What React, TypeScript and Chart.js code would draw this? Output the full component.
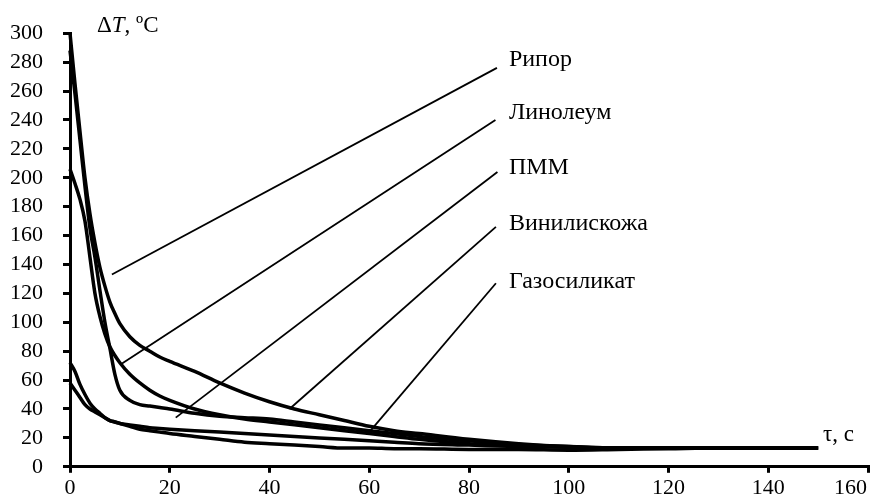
import React, { useEffect, useRef } from "react";
import { Chart, registerables } from "chart.js";

Chart.register(...registerables);

// ---- data ----
const tau = [0, 1, 2, 3, 4, 5, 6, 7, 8, 9, 10, 12, 14, 16, 18, 20, 25, 30, 35, 40, 45, 50, 55, 60, 65, 70, 80, 90, 100, 110, 120, 130, 140, 150];

const ripor = [300, 265, 232, 200, 175, 155, 138, 125, 114, 106, 99, 90, 84, 80, 76, 73, 66, 58, 51, 45, 40, 36, 32, 28, 25, 23, 19, 16, 14, 13, 13, 13, 13, 13];
const linoleum = [206, 196, 185, 170, 145, 120, 104, 92, 83, 77, 72, 64, 58, 53, 49, 46, 40, 36, 33, 31, 29, 27, 25, 23, 21, 19, 16, 14.5, 13.5, 13, 13, 13, 13, 13];
const pmm = [288, 258, 226, 194, 165, 145, 122, 100, 82, 64, 53, 46, 43, 42, 41, 40, 37, 35, 34, 33, 31, 29, 27, 25, 23, 21, 18, 15.5, 14, 13, 13, 13, 13, 13];
const vinil = [72, 66, 57, 50, 44, 40, 37, 34, 32, 31, 30, 29, 28, 27, 26.5, 26, 25, 24, 23, 22, 21, 20, 19, 18, 17, 16, 15, 14, 13.5, 13, 13, 13, 13, 13];
const gazo = [58, 53, 48, 43, 40, 38, 36, 34, 32, 31, 30, 28, 26, 25, 24, 23, 21, 19, 17, 16, 15, 14, 13, 13, 12.5, 12.5, 12, 12, 11.5, 12, 12.5, 13, 13, 13];

const seriesNames = ["Рипор", "Линолеум", "ПММ", "Винилискожа", "Газосиликат"];
const seriesValues = [ripor, linoleum, pmm, vinil, gazo];

// leader lines (from label to curve), in data units
const leaderTopX = [85.6, 85.3, 85.7, 85.4, 85.4];
const leaderTopY = [276, 240, 204, 166, 127];
const leaderEndX = [8.4, 10.2, 21.2, 44, 60];
const leaderEndY = [133, 71, 34, 40, 24];
const labelX = 88;
const labelY = [277, 240.6, 202.3, 163.5, 124];

const xTicks = [0, 20, 40, 60, 80, 100, 120, 140, 160];
const yTicks = [0, 20, 40, 60, 80, 100, 120, 140, 160, 180, 200, 220, 240, 260, 280, 300];

const FONT = "'Times New Roman', 'Liberation Serif', serif";

export default function App() {
  const ref = useRef<HTMLCanvasElement | null>(null);

  useEffect(() => {
    if (!ref.current) return;

    const datasets: any[] = seriesValues.map((vals, i) => ({
      label: seriesNames[i],
      data: tau.map((t, j) => ({ x: t, y: vals[j] })),
      borderColor: "#000",
      borderWidth: 3.5,
      pointRadius: 0,
      fill: false,
      cubicInterpolationMode: "monotone",
      clip: 4,
    }));

    seriesNames.forEach((_, i) => {
      datasets.push({
        label: "leader" + i,
        data: [
          { x: leaderTopX[i], y: leaderTopY[i] },
          { x: leaderEndX[i], y: leaderEndY[i] },
        ],
        borderColor: "#000",
        borderWidth: 1.8,
        pointRadius: 0,
        fill: false,
        tension: 0,
      });
    });

    const textPlugin = {
      id: "texts",
      afterDraw(chart: any) {
        const ctx = chart.ctx;
        const xs = chart.scales.x;
        const ys = chart.scales.y;
        const area = chart.chartArea;
        ctx.save();
        ctx.fillStyle = "#000";
        ctx.font = `22px ${FONT}`;
        ctx.textBaseline = "alphabetic";
        ctx.textAlign = "left";
        // x tick labels (Excel style: last label kept inside)
        xTicks.forEach((v) => {
          const label = String(v);
          const w = ctx.measureText(label).width;
          const px = xs.getPixelForValue(v);
          let left = px - w / 2;
          if (left + w > chart.width - 3) left = chart.width - 3 - w;
          ctx.fillText(label, left, area.bottom + 27);
        });
        // series labels
        ctx.font = `24px ${FONT}`;
        seriesNames.forEach((name, i) => {
          ctx.fillText(name, xs.getPixelForValue(labelX), ys.getPixelForValue(labelY[i]));
        });
        // y axis title: ΔT, ºC
        let x0 = area.left + 27;
        const yb = area.top - 1;
        ctx.font = `23px ${FONT}`;
        ctx.fillText("Δ", x0, yb);
        x0 += ctx.measureText("Δ").width;
        ctx.font = `italic 23px ${FONT}`;
        ctx.fillText("T", x0, yb);
        x0 += ctx.measureText("T").width;
        ctx.font = `23px ${FONT}`;
        ctx.fillText(", ºC", x0, yb);
        // x axis title
        ctx.fillText("τ, с", area.right - 45, area.bottom - 26);
        ctx.restore();
      },
    };

    const chart = new Chart(ref.current, {
      type: "line",
      data: { datasets },
      options: {
        animation: false,
        responsive: true,
        maintainAspectRatio: false,
        layout: { padding: { top: 33, right: 2, left: 0, bottom: 0 } },
        plugins: {
          legend: { display: false },
          tooltip: { enabled: false },
        },
        scales: {
          x: {
            type: "linear",
            min: 0,
            max: 160,
            afterBuildTicks: (s: any) => {
              s.ticks = xTicks.map((v) => ({ value: v }));
            },
            afterFit: (s: any) => {
              s.height = 29;
            },
            ticks: { display: false },
            grid: {
              display: true,
              drawOnChartArea: false,
              drawTicks: true,
              tickLength: 6,
              lineWidth: 3,
              color: "#000",
            },
            border: { display: true, color: "#000", width: 3 },
          },
          y: {
            type: "linear",
            min: 0,
            max: 300,
            afterBuildTicks: (s: any) => {
              s.ticks = yTicks.map((v) => ({ value: v }));
            },
            afterFit: (s: any) => {
              s.width = 70;
            },
            ticks: {
              color: "#000",
              padding: 20,
              font: { family: FONT, size: 22 },
            },
            grid: {
              display: true,
              drawOnChartArea: false,
              drawTicks: true,
              tickLength: 7,
              lineWidth: 3,
              color: "#000",
            },
            border: { display: true, color: "#000", width: 3 },
          },
        },
      },
      plugins: [textPlugin],
    });

    return () => chart.destroy();
  }, []);

  return (
    <div style={{ position: "fixed", left: 0, top: 0, width: 870, height: 500, background: "#fff" }}>
      <canvas ref={ref} />
    </div>
  );
}
